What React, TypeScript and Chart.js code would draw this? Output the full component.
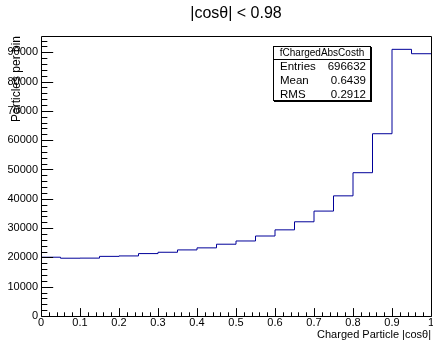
import React, { useEffect, useRef } from 'react';
import { Chart, registerables } from 'chart.js';

Chart.register(...registerables);

// Histogram: 20 bins of |cos(theta)| for charged particles
const BIN_EDGES = [
  0, 0.05, 0.1, 0.15, 0.2, 0.25, 0.3, 0.35, 0.4, 0.45, 0.5,
  0.55, 0.6, 0.65, 0.7, 0.75, 0.8, 0.85, 0.9, 0.95, 1,
];
const COUNTS = [
  20060, 19720, 19750, 20350, 20500, 21300, 21750, 22550, 23250, 24500,
  25600, 27300, 29400, 32150, 35800, 41000, 48900, 62200, 91000, 89500,
];

const X_TICK_VALUES = [0, 0.1, 0.2, 0.3, 0.4, 0.5, 0.6, 0.7, 0.8, 0.9, 1];
const X_TICK_LABELS = ['0', '0.1', '0.2', '0.3', '0.4', '0.5', '0.6', '0.7', '0.8', '0.9', '1'];
const Y_TICK_VALUES = [0, 10000, 20000, 30000, 40000, 50000, 60000, 70000, 80000, 90000];
const Y_TICK_LABELS = ['0', '10000', '20000', '30000', '40000', '50000', '60000', '70000', '80000', '90000'];
const X_MINOR_STEP = 0.02;
const Y_MINOR_STEP = 2000;

const TITLE = '|cosθ| < 0.98';
const X_TITLE = 'Charged Particle |cosθ|';
const Y_TITLE = 'Particles per bin';

const STATS_NAME = 'fChargedAbsCosth';
const STATS_LABELS = ['Entries', 'Mean', 'RMS'];
const STATS_VALUES = ['696632', '0.6439', '0.2912'];

const FONT = '"Liberation Sans", Arial, Helvetica, sans-serif';
const LINE_COLOR = '#000099';

// Frame, inward ticks and the statistics box
const framePlugin = {
  id: 'frameTicksStats',
  afterDatasetsDraw(chart: any) {
    const { ctx, chartArea, scales } = chart;
    const { left, right, top, bottom } = chartArea;
    const xs = scales.x;
    const ys = scales.y;
    const L = Math.round(left) + 0.5;
    const R = Math.round(right) + 0.5;
    const T = Math.round(top) + 0.5;
    const B = Math.round(bottom) + 0.5;
    ctx.save();
    ctx.strokeStyle = '#000';
    ctx.lineWidth = 1;
    ctx.beginPath();
    ctx.rect(L, T, R - L, B - T);
    ctx.stroke();

    const h = bottom - top;
    const w = right - left;
    const yMajor = 0.03 * w;
    const xMajor = 0.03 * h;

    ctx.beginPath();
    // y axis ticks
    for (let v = ys.min; v <= ys.max + 1e-6; v += Y_MINOR_STEP) {
      const py = Math.round(ys.getPixelForValue(v)) + 0.5;
      const major = Math.abs(v / 10000 - Math.round(v / 10000)) < 1e-6;
      ctx.moveTo(L, py);
      ctx.lineTo(L + (major ? yMajor : yMajor / 2), py);
    }
    // x axis ticks
    for (let i = 0; i * X_MINOR_STEP <= xs.max + 1e-9; i++) {
      const v = i * X_MINOR_STEP;
      const px = Math.round(xs.getPixelForValue(v)) + 0.5;
      const major = i % 5 === 0;
      ctx.moveTo(px, B);
      ctx.lineTo(px, B - (major ? xMajor : xMajor / 2));
    }
    ctx.stroke();

    // statistics box
    const bx0 = 273, bx1 = 371, by0 = 46, by1 = 101, sep = 59;
    ctx.fillStyle = '#000';
    ctx.fillRect(bx0 + 1, by0 + 1, bx1 - bx0, by1 - by0);
    ctx.fillStyle = '#fff';
    ctx.fillRect(bx0, by0, bx1 - bx0, by1 - by0);
    ctx.strokeRect(bx0 + 0.5, by0 + 0.5, bx1 - bx0 - 1, by1 - by0 - 1);
    ctx.beginPath();
    ctx.moveTo(bx0, sep + 0.5);
    ctx.lineTo(bx1, sep + 0.5);
    ctx.stroke();

    ctx.fillStyle = '#000';
    ctx.textBaseline = 'middle';
    ctx.font = `10px ${FONT}`;
    ctx.textAlign = 'center';
    ctx.fillText(STATS_NAME, (bx0 + bx1) / 2, 53);
    ctx.font = `11.5px ${FONT}`;
    const rowH = (by1 - sep) / STATS_LABELS.length;
    STATS_LABELS.forEach((lab, i) => {
      const cy = sep + rowH * (i + 0.5) + 0.5;
      ctx.textAlign = 'left';
      ctx.fillText(lab, bx0 + 7, cy);
      ctx.textAlign = 'right';
      ctx.fillText(STATS_VALUES[i], bx1 - 5, cy);
    });
    ctx.restore();
  },
};

export default function App() {
  const ref = useRef<HTMLCanvasElement | null>(null);

  useEffect(() => {
    document.body.style.margin = '0';
    const canvas = ref.current;
    if (!canvas) return;

    const points = BIN_EDGES.map((x, i) => ({
      x,
      y: i < COUNTS.length ? COUNTS[i] : COUNTS[COUNTS.length - 1],
    }));
    const yMax = 1.05 * Math.max(...COUNTS);

    const chart = new Chart(canvas, {
      type: 'line',
      data: {
        datasets: [
          {
            data: points,
            stepped: 'before',
            borderColor: LINE_COLOR,
            borderWidth: 1,
            pointRadius: 0,
            fill: false,
          },
        ],
      },
      options: {
        responsive: false,
        animation: false,
        devicePixelRatio: 1,
        layout: { padding: 0 },
        plugins: {
          legend: { display: false },
          tooltip: { enabled: false },
          title: {
            display: true,
            text: TITLE,
            fullSize: false,
            color: '#000',
            font: { family: FONT, size: 16, weight: 'normal', lineHeight: 1.2 },
            padding: { top: 4, bottom: 12.8 },
          },
        },
        scales: {
          x: {
            type: 'linear',
            min: 0,
            max: 1,
            grid: { display: false, drawTicks: false },
            border: { display: false },
            afterBuildTicks: (s: any) => {
              s.ticks = X_TICK_VALUES.map((value) => ({ value }));
            },
            afterFit: (s: any) => {
              s.height = 24;
              s.paddingRight = 2;
              s.paddingLeft = 0;
            },
            ticks: {
              autoSkip: false,
              maxRotation: 0,
              padding: 0,
              color: '#000',
              font: { family: FONT, size: 11 },
              callback: (_v: any, i: number) => X_TICK_LABELS[i],
            },
            title: {
              display: true,
              text: X_TITLE,
              align: 'end',
              color: '#000',
              font: { family: FONT, size: 11, lineHeight: 1 },
              padding: { top: 0, bottom: 0 },
            },
          },
          y: {
            type: 'linear',
            min: 0,
            max: yMax,
            grid: { display: false, drawTicks: false },
            border: { display: false },
            afterBuildTicks: (s: any) => {
              s.ticks = Y_TICK_VALUES.map((value) => ({ value }));
            },
            afterFit: (s: any) => {
              s.width = 41;
            },
            ticks: {
              padding: 3,
              color: '#000',
              font: { family: FONT, size: 11 },
              callback: (_v: any, i: number) => Y_TICK_LABELS[i],
            },
            title: {
              display: true,
              text: Y_TITLE,
              align: 'end',
              color: '#000',
              font: { family: FONT, size: 12, lineHeight: 1 },
              padding: { top: 11, bottom: 0 },
            },
          },
        },
      },
      plugins: [framePlugin],
    });

    return () => chart.destroy();
  }, []);

  return (
    <div style={{ width: 433, height: 340, background: '#fff' }}>
      <canvas ref={ref} width={433} height={340} />
    </div>
  );
}
